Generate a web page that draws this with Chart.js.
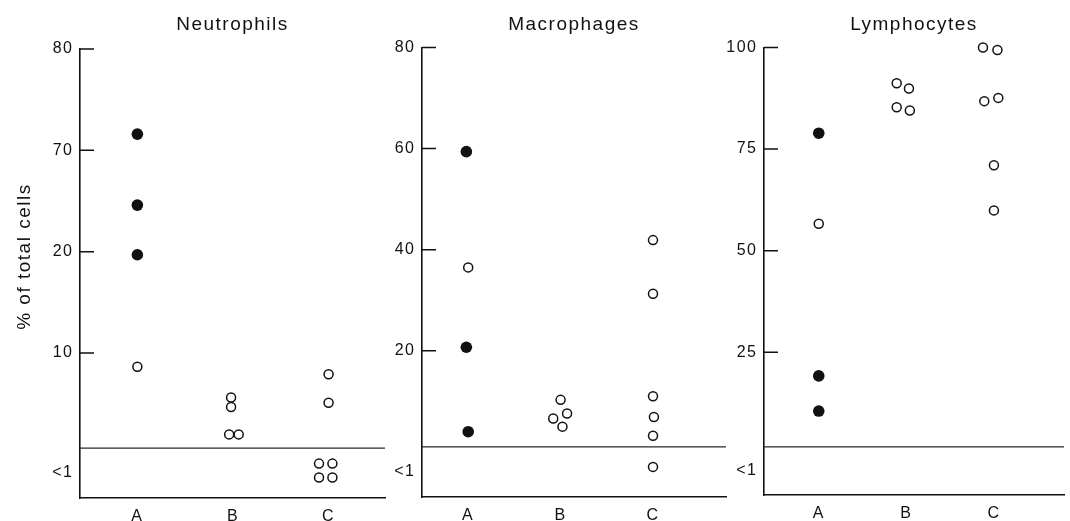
<!DOCTYPE html>
<html>
<head>
<meta charset="utf-8">
<script src="https://cdn.jsdelivr.net/npm/chart.js@4.4.1/dist/chart.umd.min.js"></script>
<style>
  html, body { margin: 0; background: #fff; }
  #wrap { position: relative; width: 1070px; height: 521px; }
  #wrap canvas { position: absolute; left: 0; top: 0; }
</style>
</head>
<body>
<div id="wrap">
  <canvas id="neutrophils" width="1070" height="521"></canvas>
  <canvas id="macrophages" width="1070" height="521"></canvas>
  <canvas id="lymphocytes" width="1070" height="521"></canvas>
</div>
<script>
const groups = ["A", "B", "C"];

// points are [group position (A = 1, B = 2, C = 3, with the small side-by-side spread), % of total cells]
// values below 1 sit in the "<1" band

// Neutrophils
const neutroFilled = [[1.0, 71.6], [1.0, 43.0], [1.0, 19.7]];
const neutroOpen = [
  [1.0, 8.7],
  [1.98, 5.8], [1.98, 4.9], [1.96, 2.3], [2.06, 2.3],
  [3.0, 8.0], [3.0, 5.3], [2.9, 0.69], [3.04, 0.69], [2.9, 0.41], [3.04, 0.41],
];
const neutroTicks = [0.5, 10, 20, 70, 80];
const neutroTickLabels = ["<1", "10", "20", "70", "80"];
// the axis is not linear: each labelled step gets the same length
const neutroBreaks = [[0, -0.43], [1, 0.062], [10, 1], [20, 2], [70, 3], [80, 4]];

// Macrophages
const macroFilled = [[0.98, 59.4], [0.98, 20.7], [1.0, 4.0]];
const macroOpen = [
  [1.0, 36.5],
  [2.0, 10.3], [2.07, 7.6], [1.92, 6.6], [2.02, 5.0],
  [3.0, 41.9], [3.0, 31.3], [3.0, 11.0], [3.01, 6.9], [3.0, 3.2], [3.0, 0.6],
];
const macroTicks = [0.5, 20, 40, 60, 80];
const macroTickLabels = ["<1", "20", "40", "60", "80"];
const macroBreaks = [[0, -0.446], [1, 0.05], [80, 4]];

// Lymphocytes
const lymphoFilled = [[1.0, 78.9], [1.0, 19.0], [1.0, 10.1]];
const lymphoOpen = [
  [1.0, 56.6],
  [1.89, 91.2], [2.03, 89.9], [1.89, 85.3], [2.04, 84.5],
  [2.875, 100.5], [3.04, 99.4], [2.89, 86.8], [3.05, 87.6], [3.0, 71.0], [3.0, 59.9],
];
const lymphoTicks = [0.5, 25, 50, 75, 100];
const lymphoTickLabels = ["<1", "25", "50", "75", "100"];
const lymphoBreaks = [[0, -0.406], [1, 0.067], [25, 1], [100, 4]];

const INK = "#111";
const FONT = "'Liberation Sans', Arial, Helvetica, sans-serif";
Chart.defaults.font.family = FONT;
Chart.defaults.color = INK;

// Linear scale whose values go through a piecewise mapping (broken axis)
class BrokenScale extends Chart.LinearScale {
  toPos(v) {
    const b = this.options.breaks;
    if (v <= b[0][0]) return b[0][1];
    for (let i = 1; i < b.length; i++) {
      if (v <= b[i][0]) {
        const [v0, p0] = b[i - 1];
        const [v1, p1] = b[i];
        return p0 + ((v - v0) / (v1 - v0)) * (p1 - p0);
      }
    }
    return b[b.length - 1][1];
  }
  getPixelForValue(v) {
    return super.getPixelForValue(this.toPos(v));
  }
  buildTicks() {
    return this.options.tickValues.map((v) => ({ value: v }));
  }
}
BrokenScale.id = "broken";
BrokenScale.defaults = {};
Chart.register(BrokenScale);

// letter-spaced lettering like the typeset original
const spacedText = {
  id: "spacedText",
  beforeUpdate(chart) { chart.ctx.letterSpacing = "1.5px"; },
  beforeDraw(chart) { chart.ctx.letterSpacing = "1.5px"; },
};

// inward tick marks and the line that separates the "<1" band
const axisMarks = {
  id: "axisMarks",
  beforeDatasetsDraw(chart) {
    const { ctx, chartArea, scales } = chart;
    const y = scales.y;
    ctx.save();
    ctx.strokeStyle = INK;
    ctx.lineWidth = 1.5;
    ctx.beginPath();
    y.ticks.forEach((t) => {
      if (t.value < 1) return;
      const py = y.getPixelForValue(t.value);
      ctx.moveTo(chartArea.left, py);
      ctx.lineTo(chartArea.left + 14, py);
    });
    ctx.stroke();
    const py = y.getPixelForValue(1);
    ctx.strokeStyle = "#2a2a2a";
    ctx.lineWidth = 1.2;
    ctx.beginPath();
    ctx.moveTo(chartArea.left, py);
    ctx.lineTo(chartArea.right, py);
    ctx.stroke();
    ctx.restore();
  },
};

const toXY = (pts) => pts.map(([x, y]) => ({ x, y }));

function makePanel(canvasId, p) {
  const ctx = document.getElementById(canvasId).getContext("2d");
  return new Chart(ctx, {
    type: "scatter",
    data: {
      datasets: [
        {
          data: toXY(p.open),
          clip: false,
          pointRadius: 4.5,
          pointBorderWidth: 1.5,
          pointBorderColor: INK,
          pointBackgroundColor: "rgba(0,0,0,0)",
        },
        {
          data: toXY(p.filled),
          clip: false,
          pointRadius: 5.8,
          pointBorderWidth: 0,
          pointBackgroundColor: INK,
        },
      ],
    },
    options: {
      responsive: false,
      animation: false,
      events: [],
      layout: { padding: { left: p.padLeft, right: p.padRight, top: 0, bottom: 0 } },
      plugins: {
        legend: { display: false },
        tooltip: { enabled: false },
        title: {
          display: true,
          text: p.title,
          fullSize: false,
          color: INK,
          font: { size: 19, weight: "normal" },
          padding: { top: 13, bottom: p.titleGap },
        },
      },
      scales: {
        x: {
          type: "linear",
          min: p.xMin,
          max: p.xMax,
          afterBuildTicks: (scale) => {
            scale.ticks = groups.map((g, i) => ({ value: i + 1 }));
          },
          afterFit: (scale) => { scale.height = p.xHeight; },
          grid: { display: false, drawTicks: false },
          border: { display: true, color: INK, width: 1.6 },
          ticks: {
            autoSkip: false,
            maxRotation: 0,
            padding: 9,
            font: { size: 16 },
            callback: (v, i) => groups[i],
          },
        },
        y: {
          type: "broken",
          min: p.breaks[0][1],
          max: p.breaks[p.breaks.length - 1][1],
          breaks: p.breaks,
          tickValues: p.ticks,
          afterFit: (scale) => { scale.width = p.axisWidth; },
          grid: { display: false, drawTicks: false },
          border: { display: true, color: INK, width: 1.6 },
          ticks: {
            autoSkip: false,
            padding: 6.5,
            font: { size: 16 },
            callback: (v, i) => p.tickLabels[i],
          },
          title: {
            display: !!p.yTitle,
            text: p.yTitle || "",
            color: INK,
            font: { size: 19 },
            padding: { top: 13.6, bottom: 0 },
          },
        },
      },
    },
    plugins: [spacedText, axisMarks],
  });
}

makePanel("neutrophils", {
  title: "Neutrophils",
  yTitle: "     % of total cells",
  filled: neutroFilled, open: neutroOpen,
  ticks: neutroTicks, tickLabels: neutroTickLabels, breaks: neutroBreaks,
  padLeft: 0, padRight: 685, axisWidth: 80, xHeight: 23, titleGap: 13.2,
  xMin: 0.40, xMax: 3.59,
});

makePanel("macrophages", {
  title: "Macrophages",
  filled: macroFilled, open: macroOpen,
  ticks: macroTicks, tickLabels: macroTickLabels, breaks: macroBreaks,
  padLeft: 380, padRight: 344, axisWidth: 42, xHeight: 24, titleGap: 11.7,
  xMin: 0.50, xMax: 3.79,
});

makePanel("lymphocytes", {
  title: "Lymphocytes",
  filled: lymphoFilled, open: lymphoOpen,
  ticks: lymphoTicks, tickLabels: lymphoTickLabels, breaks: lymphoBreaks,
  padLeft: 720, padRight: 5, axisWidth: 44, xHeight: 26, titleGap: 11.7,
  xMin: 0.375, xMax: 3.80,
});
</script>
</body>
</html>
